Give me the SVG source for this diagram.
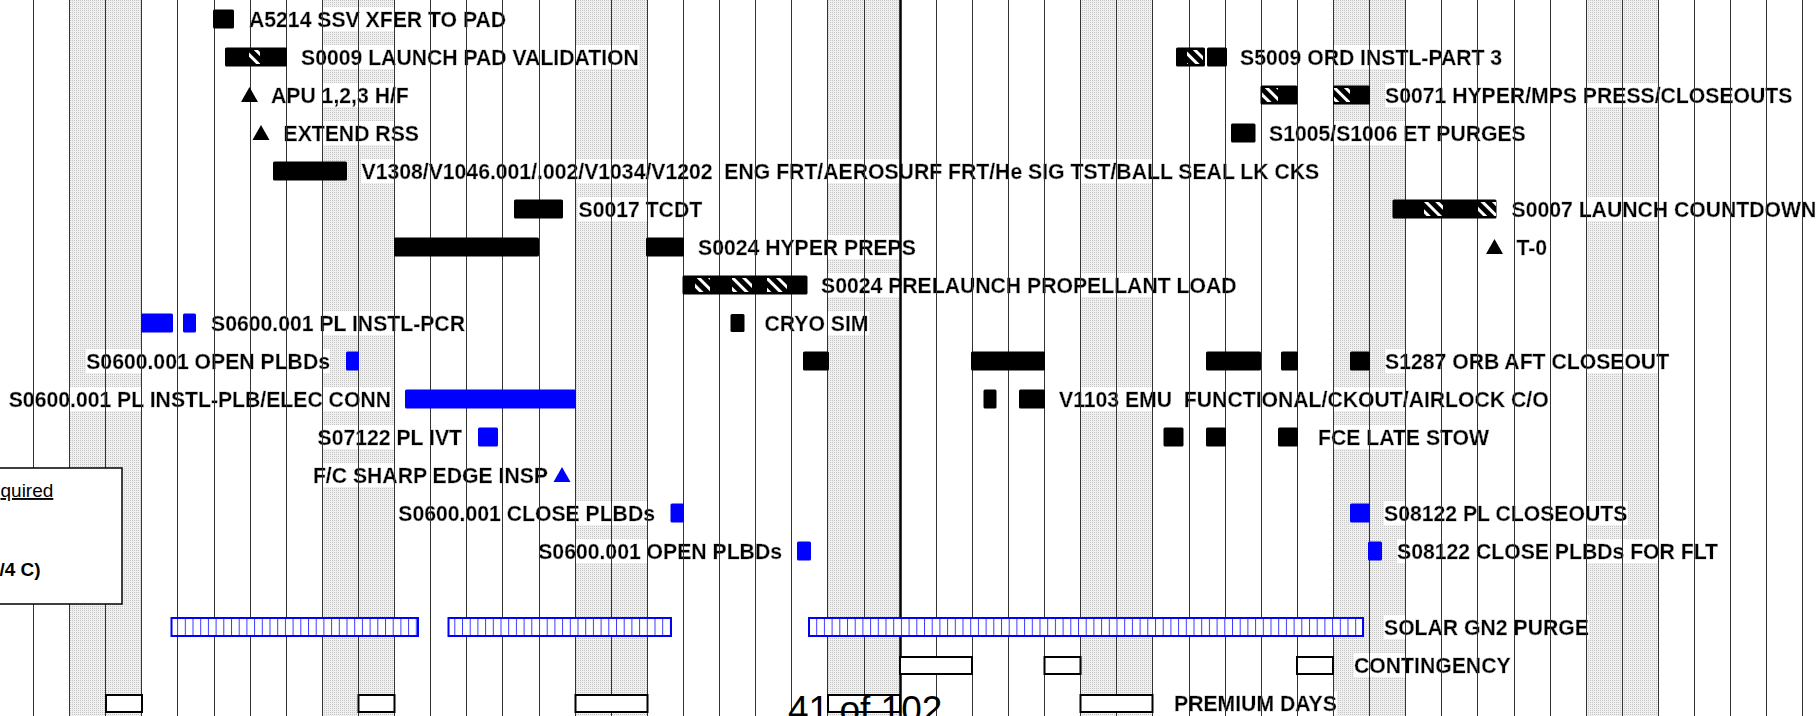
<svg xmlns="http://www.w3.org/2000/svg" width="1817" height="716" viewBox="0 0 1817 716">
<defs>
<style>
.lbl{font-family:"Liberation Sans",Arial,sans-serif;font-weight:bold;font-size:21.2px;fill:#000;stroke:#000;stroke-width:0.35;filter:url(#wbg);white-space:pre}
.r{text-anchor:end}
.bk{fill:#000}
.bl{fill:#00f}
.hx{fill:url(#hx)}
.ct{fill:#fff;stroke:#000;stroke-width:2}
.sol{fill:url(#solar);stroke:#00f;stroke-width:2}
.grid{stroke:#333;stroke-width:1;fill:none}
</style>
<filter id="wbg" x="0" y="0" width="1" height="1"><feFlood flood-color="#fff"/><feComposite in="SourceGraphic" operator="over"/></filter>
<pattern id="hx" width="8" height="8" patternUnits="userSpaceOnUse" patternTransform="rotate(-45)"><rect width="3" height="8" fill="#fff"/></pattern>
<pattern id="solar" x="0" width="7.7" height="20" patternUnits="userSpaceOnUse"><rect width="7.7" height="20" fill="#fff"/><rect width="1" height="20" fill="#3a3aff"/></pattern>
<pattern id="wk" width="2" height="2" patternUnits="userSpaceOnUse"><rect width="2" height="2" fill="#f0f0f0"/><rect width="1" height="1" fill="#c6c6c6"/></pattern>
</defs>
<rect width="1817" height="716" fill="#fff"/>
<g id="weekends" fill="url(#wk)">
<rect x="69.5" y="0" width="72" height="716"/>
<rect x="322.5" y="0" width="72" height="716"/>
<rect x="575.5" y="0" width="72" height="716"/>
<rect x="827.5" y="0" width="73" height="716"/>
<rect x="1080.5" y="0" width="72" height="716"/>
<rect x="1333.5" y="0" width="72" height="716"/>
<rect x="1586.5" y="0" width="72" height="716"/>
</g>
<g id="labels">
<text class="lbl" x="249" y="26.5">A5214 SSV XFER TO PAD</text>
<text class="lbl" x="301" y="64.5">S0009 LAUNCH PAD VALIDATION</text>
<text class="lbl" x="1240" y="64.5">S5009 ORD INSTL-PART 3</text>
<text class="lbl" x="271" y="102.5">APU 1,2,3 H/F</text>
<text class="lbl" x="1385" y="102.5">S0071 HYPER/MPS PRESS/CLOSEOUTS</text>
<text class="lbl" x="283.5" y="140.5">EXTEND RSS</text>
<text class="lbl" x="1269" y="140.5">S1005/S1006 ET PURGES</text>
<text class="lbl" x="361.5" y="178.5">V1308/V1046.001/.002/V1034/V1202  ENG FRT/AEROSURF FRT/He SIG TST/BALL SEAL LK CKS</text>
<text class="lbl" x="578.5" y="216.5">S0017 TCDT</text>
<text class="lbl" x="1511.5" y="216.5">S0007 LAUNCH COUNTDOWN</text>
<text class="lbl" x="698" y="254.5">S0024 HYPER PREPS</text>
<text class="lbl" x="1516.5" y="254.5">T-0</text>
<text class="lbl" x="821" y="292.5">S0024 PRELAUNCH PROPELLANT LOAD</text>
<text class="lbl" x="211" y="330.5">S0600.001 PL INSTL-PCR</text>
<text class="lbl" x="764.5" y="330.5">CRYO SIM</text>
<text class="lbl r" x="330" y="368.5">S0600.001 OPEN PLBDs</text>
<text class="lbl" x="1385" y="368.5">S1287 ORB AFT CLOSEOUT</text>
<text class="lbl r" x="391" y="406.5">S0600.001 PL INSTL-PLB/ELEC CONN</text>
<text class="lbl" x="1059" y="406.5">V1103 EMU  FUNCTIONAL/CKOUT/AIRLOCK C/O</text>
<text class="lbl r" x="462" y="444.5">S07122 PL IVT</text>
<text class="lbl" x="1318" y="444.5">FCE LATE STOW</text>
<text class="lbl r" x="548" y="482.5">F/C SHARP EDGE INSP</text>
<text class="lbl r" x="655" y="520.5">S0600.001 CLOSE PLBDs</text>
<text class="lbl" x="1384" y="520.5">S08122 PL CLOSEOUTS</text>
<text class="lbl r" x="782" y="558.5">S0600.001 OPEN PLBDs</text>
<text class="lbl" x="1397" y="558.5">S08122 CLOSE PLBDs FOR FLT</text>
<text class="lbl" x="1384" y="634.5">SOLAR GN2 PURGE</text>
<text class="lbl" x="1354" y="672.5">CONTINGENCY</text>
<text class="lbl" x="1174" y="710.5">PREMIUM DAYS</text>
</g>
<g id="gridlines">
<path class="grid" d="M33.5 0V716M69.5 0V716M105.5 0V716M141.5 0V716M177.5 0V716M214.5 0V716M250.5 0V716M286.5 0V716M322.5 0V716M358.5 0V716M394.5 0V716M430.5 0V716M466.5 0V716M502.5 0V716M539.5 0V716M575.5 0V716M611.5 0V716M647.5 0V716M683.5 0V716M719.5 0V716M755.5 0V716M791.5 0V716M827.5 0V716M864.5 0V716M936.5 0V716M972.5 0V716M1008.5 0V716M1044.5 0V716M1080.5 0V716M1116.5 0V716M1152.5 0V716M1189.5 0V716M1225.5 0V716M1261.5 0V716M1297.5 0V716M1333.5 0V716M1369.5 0V716M1405.5 0V716M1441.5 0V716M1477.5 0V716M1514.5 0V716M1550.5 0V716M1586.5 0V716M1622.5 0V716M1658.5 0V716M1694.5 0V716M1730.5 0V716M1766.5 0V716M1802.5 0V716"/>
<path d="M900.5 0V716" stroke="#000" stroke-width="2.5"/>
</g>
<g id="task-a5214"><rect class="bk" x="213" y="9.5" width="21" height="19" rx="1.5"/></g>
<g id="task-s0009"><rect class="bk" x="225" y="47.5" width="62" height="19" rx="1.5"/><rect class="hx" x="249" y="50" width="11" height="14"/></g>
<g id="task-s5009"><rect class="bk" x="1176" y="47.5" width="29" height="19" rx="1.5"/><rect class="hx" x="1187" y="50" width="16" height="14"/><rect class="bk" x="1207" y="47.5" width="20" height="19" rx="1.5"/></g>
<g id="ms-apu"><path class="bk" d="M241 102L249.5 87L258 102Z"/></g>
<g id="task-s0071"><rect class="bk" x="1260.5" y="85.5" width="37" height="19" rx="1.5"/><rect class="hx" x="1262" y="88" width="16" height="14"/><rect class="bk" x="1333" y="85.5" width="37" height="19" rx="1.5"/><rect class="hx" x="1334" y="88" width="16" height="14"/></g>
<g id="ms-rss"><path class="bk" d="M252.5 140L261 125L269.5 140Z"/></g>
<g id="task-s1005"><rect class="bk" x="1231" y="123.5" width="24.5" height="19" rx="1.5"/></g>
<g id="task-v1308"><rect class="bk" x="273" y="161.5" width="74" height="19" rx="1.5"/></g>
<g id="task-s0017"><rect class="bk" x="514" y="199.5" width="49" height="19" rx="1.5"/></g>
<g id="task-s0007"><rect class="bk" x="1392.5" y="199.5" width="104" height="19" rx="1.5"/><rect class="hx" x="1424" y="202" width="19" height="14"/><rect class="hx" x="1478" y="202" width="18" height="14"/></g>
<g id="task-s0024-hyper"><rect class="bk" x="394" y="237.5" width="145" height="19" rx="1.5"/><rect class="bk" x="646" y="237.5" width="38" height="19" rx="1.5"/></g>
<g id="ms-t0"><path class="bk" d="M1486 254L1494.5 239L1503 254Z"/></g>
<g id="task-s0024-load"><rect class="bk" x="682.5" y="275.5" width="125" height="19" rx="1.5"/><rect class="hx" x="695" y="278" width="15" height="14"/><rect class="hx" x="732" y="278" width="20" height="14"/><rect class="hx" x="767" y="278" width="20" height="14"/></g>
<g id="task-pcr"><rect class="bl" x="141" y="313.5" width="32" height="19" rx="1.5"/><rect class="bl" x="183" y="313.5" width="13" height="19" rx="1.5"/></g>
<g id="task-cryo"><rect class="bk" x="730.5" y="314" width="14" height="18" rx="1.5"/></g>
<g id="task-open1"><rect class="bl" x="346" y="351.5" width="13" height="19" rx="1.5"/></g>
<g id="task-s1287"><rect class="bk" x="803" y="351.5" width="26" height="19" rx="1.5"/><rect class="bk" x="971" y="351.5" width="74" height="19" rx="1.5"/><rect class="bk" x="1206" y="351.5" width="55" height="19" rx="1.5"/><rect class="bk" x="1281" y="351.5" width="17" height="19" rx="1.5"/><rect class="bk" x="1350" y="351.5" width="20" height="19" rx="1.5"/></g>
<g id="task-plb"><rect class="bl" x="405" y="389.5" width="171" height="19" rx="1.5"/></g>
<g id="task-v1103"><rect class="bk" x="983.5" y="389.5" width="13" height="19" rx="1.5"/><rect class="bk" x="1019" y="389.5" width="26" height="19" rx="1.5"/></g>
<g id="task-ivt"><rect class="bl" x="478" y="427.5" width="20" height="19" rx="1.5"/></g>
<g id="task-fce"><rect class="bk" x="1163.5" y="427.5" width="20" height="19" rx="1.5"/><rect class="bk" x="1206" y="427.5" width="20" height="19" rx="1.5"/><rect class="bk" x="1278" y="427.5" width="20" height="19" rx="1.5"/></g>
<g id="ms-sharp"><path class="bl" d="M553.5 482L562 467L570.5 482Z"/></g>
<g id="task-close1"><rect class="bl" x="670.5" y="503.5" width="13.5" height="19" rx="1.5"/></g>
<g id="task-s08122-co"><rect class="bl" x="1350" y="503.5" width="20" height="19" rx="1.5"/></g>
<g id="task-open2"><rect class="bl" x="797" y="541.5" width="14" height="19" rx="1.5"/></g>
<g id="task-s08122-close"><rect class="bl" x="1368" y="541.5" width="14" height="19" rx="1.5"/></g>
<g id="task-solar"><rect class="sol" x="171.5" y="618" width="246.5" height="18"/><rect class="sol" x="448.5" y="618" width="222.5" height="18"/><rect class="sol" x="809" y="618" width="554" height="18"/></g>
<g id="contingency"><rect class="ct" x="900" y="657" width="72" height="17"/><rect class="ct" x="1044.5" y="657" width="36" height="17"/><rect class="ct" x="1297" y="657" width="36" height="17"/></g>
<g id="premium"><rect class="ct" x="106" y="695" width="36" height="17"/><rect class="ct" x="358.5" y="695" width="36" height="17"/><rect class="ct" x="575.5" y="695" width="72" height="17"/><rect class="ct" x="828" y="695" width="72" height="17"/><rect class="ct" x="1080.5" y="695" width="72" height="17"/></g>
<g id="legend">
<rect x="-2" y="468" width="124" height="136" fill="#fff" stroke="#000" stroke-width="1.5"/>
<text x="0.5" y="497" font-family="Liberation Sans, Arial, sans-serif" font-size="19" text-decoration="underline">quired</text>
<text x="-0.5" y="576" font-family="Liberation Sans, Arial, sans-serif" font-size="19" font-weight="bold">/4 C)</text>
</g>
<g id="page-number"><text x="788" y="722" font-family="Liberation Sans, Arial, sans-serif" font-size="37">41 of 102</text></g>
</svg>
